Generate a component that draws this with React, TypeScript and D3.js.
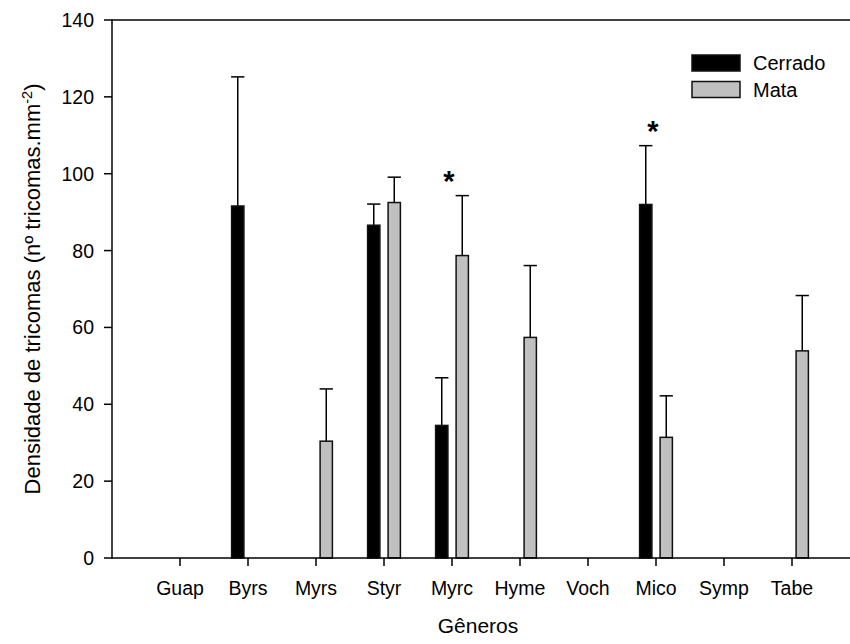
import React from "react";
import * as d3 from "d3";

// Genera on the x axis
const generos = ["Guap", "Byrs", "Myrs", "Styr", "Myrc", "Hyme", "Voch", "Mico", "Symp", "Tabe"];
const series = ["Cerrado", "Mata"];

// Trichome density (mean) and standard error, per genus; null = not sampled
const cerrado: (number | null)[] = [null, 91.6, null, 86.6, 34.5, null, null, 92.0, null, null];
const cerradoErr: (number | null)[] = [null, 33.6, null, 5.5, 12.4, null, null, 15.3, null, null];
const mata: (number | null)[] = [null, null, 30.4, 92.5, 78.7, 57.4, null, 31.4, null, 53.9];
const mataErr: (number | null)[] = [null, null, 13.6, 6.6, 15.6, 18.7, null, 10.8, null, 14.4];

// Genera with a significant difference between environments
const significant = ["Myrc", "Mico"];

const yTicks = [0, 20, 40, 60, 80, 100, 120, 140];

const W = 850;
const H = 644;
const M = { left: 112, top: 20, bottom: 558, right: 860 };
const FONT = "'Liberation Sans', Arial, Helvetica, sans-serif";

export default function App() {
  const x = d3.scalePoint<string>().domain(generos).range([M.left, M.right]).padding(1);
  const xSub = d3.scaleBand<string>().domain(series).range([-20.5, 20.5]).paddingInner(0.4).paddingOuter(0.2);
  const y = d3.scaleLinear().domain([0, 140]).range([M.bottom, M.top]);
  const bw = xSub.bandwidth();

  const values = [cerrado, mata];
  const errs = [cerradoErr, mataErr];
  const fills = ["#000000", "#c0c0c0"];

  const bars: React.ReactNode[] = [];
  series.forEach((s, si) => {
    generos.forEach((g, gi) => {
      const v = values[si][gi];
      if (v == null) return;
      const e = errs[si][gi] ?? 0;
      const x0 = (x(g) as number) + (xSub(s) as number);
      const cx = x0 + bw / 2;
      bars.push(
        <g key={`${s}-${g}`}>
          <line x1={cx} x2={cx} y1={y(v)} y2={y(v + e)} stroke="#000" strokeWidth={1.5} />
          <line x1={x0 - 0.5} x2={x0 + bw + 0.5} y1={y(v + e)} y2={y(v + e)} stroke="#000" strokeWidth={1.5} />
          <rect
            x={x0}
            y={y(v)}
            width={bw}
            height={y(0) - y(v)}
            fill={fills[si]}
            stroke="#111"
            strokeWidth={1.5}
          />
        </g>
      );
    });
  });

  const stars = significant.map((g) => {
    const gi = generos.indexOf(g);
    const tops = series.map((_, si) => {
      const v = values[si][gi];
      return v == null ? 0 : v + (errs[si][gi] ?? 0);
    });
    const top = Math.max(...tops);
    return (
      <text
        key={`star-${g}`}
        x={(x(g) as number) - 3}
        y={y(top) - 5}
        textAnchor="middle"
        fontSize={29}
        fontWeight="bold"
        fontFamily={FONT}
      >
        *
      </text>
    );
  });

  return (
    <svg
      width={W}
      height={H}
      style={{ position: "absolute", left: 0, top: 0, background: "#fff" }}
      fontFamily={FONT}
    >
      <rect width={W} height={H} fill="#fff" />
      {bars}
      {stars}

      {/* frame: top, left, bottom */}
      <line x1={M.left} x2={W} y1={M.top} y2={M.top} stroke="#000" strokeWidth={1.5} />
      <line x1={M.left} x2={M.left} y1={M.top - 0.75} y2={M.bottom + 0.75} stroke="#000" strokeWidth={1.5} />
      <line x1={M.left} x2={W} y1={M.bottom} y2={M.bottom} stroke="#000" strokeWidth={1.5} />

      {/* y axis ticks */}
      {yTicks.map((t) => (
        <g key={`yt-${t}`}>
          <line x1={M.left - 8} x2={M.left} y1={y(t)} y2={y(t)} stroke="#000" strokeWidth={1.5} />
          <text x={M.left - 18} y={y(t)} dy="0.36em" textAnchor="end" fontSize={19.5}>
            {t}
          </text>
        </g>
      ))}

      {/* x axis ticks */}
      {generos.map((g) => (
        <g key={`xt-${g}`}>
          <line x1={x(g)} x2={x(g)} y1={M.bottom} y2={M.bottom + 8} stroke="#000" strokeWidth={1.5} />
          <text x={x(g)} y={M.bottom + 37} textAnchor="middle" fontSize={19.5}>
            {g}
          </text>
        </g>
      ))}

      {/* axis titles */}
      <text x={478} y={633} textAnchor="middle" fontSize={21}>
        Gêneros
      </text>
      <text
        transform={`translate(40, ${(M.top + M.bottom) / 2}) rotate(-90)`}
        textAnchor="middle"
        fontSize={22}
      >
        Densidade de tricomas (nº tricomas.mm
        <tspan dy={-8} fontSize={14.5}>-2</tspan>
        <tspan dy={8}>)</tspan>
      </text>

      {/* legend */}
      {series.map((s, si) => (
        <g key={`lg-${s}`} transform={`translate(692, ${55 + si * 26.5})`}>
          <rect x={0} y={0} width={48} height={16} fill={fills[si]} stroke="#111" strokeWidth={1.5} />
          <text x={61} y={8} dy="0.36em" fontSize={20}>
            {s}
          </text>
        </g>
      ))}
    </svg>
  );
}
